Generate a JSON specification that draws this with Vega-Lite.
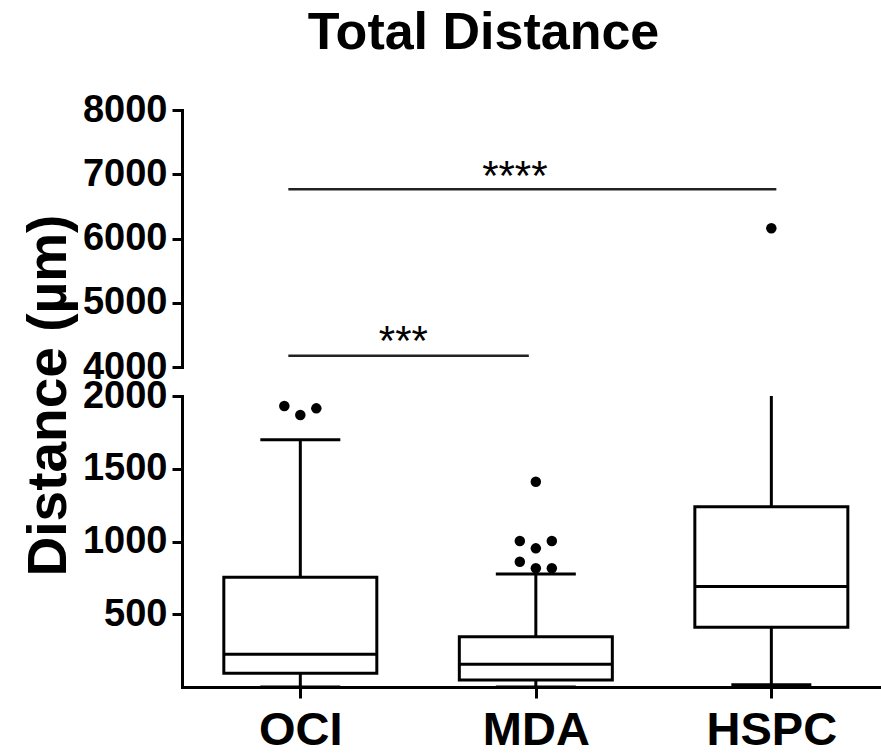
{
  "$schema": "https://vega.github.io/schema/vega-lite/v6.json",
  "autosize": {"type": "none"},
  "bounds": "flush",
  "padding": {"left": 182, "top": 110, "right": 699, "bottom": 643},
  "background": "white",
  "spacing": 29,
  "datasets": {
    "boxes": [
      {"group": "OCI", "lo": 0, "q1": 94, "median": 225, "q3": 754, "hi": 1700},
      {"group": "MDA", "lo": 0, "q1": 48, "median": 156, "q3": 346, "hi": 777},
      {"group": "HSPC", "lo": 15, "q1": 410, "median": 690, "q3": 1239, "hi": 2050}
    ],
    "outliers": [
      {"group": "OCI", "jitter": -1, "distance": 1931},
      {"group": "OCI", "jitter": 0, "distance": 1869},
      {"group": "OCI", "jitter": 1, "distance": 1915},
      {"group": "MDA", "jitter": 0, "distance": 1411},
      {"group": "MDA", "jitter": -1, "distance": 1003},
      {"group": "MDA", "jitter": 1, "distance": 1003},
      {"group": "MDA", "jitter": 0, "distance": 953},
      {"group": "MDA", "jitter": -1, "distance": 861},
      {"group": "MDA", "jitter": 0, "distance": 816},
      {"group": "MDA", "jitter": 1, "distance": 816},
      {"group": "HSPC", "jitter": 0, "distance": 6160}
    ],
    "sig": [
      {"from": "OCI", "to": "MDA", "level": 4176, "label": "***"},
      {"from": "OCI", "to": "HSPC", "level": 6766, "label": "****"}
    ]
  },
  "config": {
    "view": {"stroke": null},
    "axis": {"domainColor": "black", "domainWidth": 3, "domainCap": "square", "tickColor": "black", "tickWidth": 3, "tickSize": 10, "labelFont": "Liberation Sans", "labelFontWeight": "bold", "labelColor": "black", "grid": false, "titleFont": "Liberation Sans", "titleFontWeight": "bold", "titleColor": "black"},
    "axisY": {"labelFontSize": 38, "labelPadding": 5, "format": "d"},
    "axisX": {"labelFontSize": 47, "tickSize": 11, "labelPadding": 9}
  },
  "vconcat": [
    {
      "width": 699,
      "height": 257,
      "title": {"text": "Total Distance", "font": "Liberation Sans", "fontSize": 52, "fontWeight": "bold", "color": "black", "anchor": "middle", "frame": "group", "dx": -48, "offset": -10, "baseline": "alphabetic"},
      "encoding": {
        "x": {"field": "group", "type": "nominal", "scale": {"type": "point", "domain": ["OCI", "MDA", "HSPC"], "padding": 0.484, "align": 0.519}, "axis": null}
      },
      "layer": [
        {
          "data": {"name": "outliers"},
          "mark": {"type": "circle", "size": 110, "color": "black", "opacity": 1, "clip": true},
          "encoding": {
            "xOffset": {"field": "jitter", "type": "quantitative", "scale": {"domain": [-1, 1], "range": [-16, 16]}},
            "y": {"field": "distance", "type": "quantitative", "scale": {"domain": [4000, 8000], "nice": false, "zero": false}, "axis": {"values": [4000, 5000, 6000, 7000, 8000], "title": null}}
          }
        },
        {
          "data": {"name": "sig"},
          "transform": [{"filter": "datum.label == '***'"}],
          "mark": {"type": "rule", "color": "#222222", "strokeWidth": 2.5, "xOffset": -12, "x2Offset": -7},
          "encoding": {
            "x": {"field": "from", "type": "nominal"},
            "x2": {"field": "to"},
            "y": {"field": "level", "type": "quantitative"}
          }
        },
        {
          "data": {"name": "sig"},
          "transform": [{"filter": "datum.label == '****'"}],
          "mark": {"type": "rule", "color": "#222222", "strokeWidth": 2.5, "xOffset": -12, "x2Offset": 5},
          "encoding": {
            "x": {"field": "from", "type": "nominal"},
            "x2": {"field": "to"},
            "y": {"field": "level", "type": "quantitative"}
          }
        },
        {
          "data": {"name": "sig"},
          "transform": [{"filter": "datum.label == '***'"}],
          "mark": {"type": "text", "font": "Liberation Sans", "fontSize": 42, "color": "black", "baseline": "alphabetic", "align": "center", "xOffset": 103, "dy": -1},
          "encoding": {
            "x": {"field": "from", "type": "nominal"},
            "y": {"field": "level", "type": "quantitative"},
            "text": {"field": "label"}
          }
        },
        {
          "data": {"name": "sig"},
          "transform": [{"filter": "datum.label == '****'"}],
          "mark": {"type": "text", "font": "Liberation Sans", "fontSize": 42, "color": "black", "baseline": "alphabetic", "align": "center", "xOffset": 214.5, "dy": 1},
          "encoding": {
            "x": {"field": "from", "type": "nominal"},
            "y": {"field": "level", "type": "quantitative"},
            "text": {"field": "label"}
          }
        }
      ]
    },
    {
      "width": 699,
      "height": 291,
      "encoding": {
        "x": {"field": "group", "type": "nominal", "scale": {"type": "point", "domain": ["OCI", "MDA", "HSPC"], "padding": 0.484, "align": 0.519}, "axis": {"title": null, "labelAngle": 0}}
      },
      "layer": [
        {
          "data": {"name": "boxes"},
          "mark": {"type": "rule", "color": "black", "strokeWidth": 3, "clip": true},
          "encoding": {
            "y": {"field": "q3", "type": "quantitative", "scale": {"domain": [0, 2000], "nice": false, "zero": false}, "axis": {"values": [500, 1000, 1500, 2000], "title": "Distance (µm)", "titleFontSize": 55, "titleAngle": -90, "titleX": -134, "titleY": -1, "titleAlign": "center", "titleBaseline": "middle"}},
            "y2": {"field": "hi"}
          }
        },
        {
          "data": {"name": "boxes"},
          "mark": {"type": "rule", "color": "black", "strokeWidth": 3, "clip": true},
          "encoding": {
            "y": {"field": "lo", "type": "quantitative"},
            "y2": {"field": "q1"}
          }
        },
        {
          "data": {"name": "boxes"},
          "mark": {"type": "tick", "color": "black", "size": 80, "thickness": 3, "opacity": 1, "clip": true},
          "encoding": {
            "y": {"field": "hi", "type": "quantitative"}
          }
        },
        {
          "data": {"name": "boxes"},
          "mark": {"type": "tick", "color": "black", "size": 80, "thickness": 3, "opacity": 1, "clip": true},
          "encoding": {
            "y": {"field": "lo", "type": "quantitative"}
          }
        },
        {
          "data": {"name": "boxes"},
          "mark": {"type": "bar", "width": 153, "fill": "white", "stroke": "black", "strokeWidth": 3},
          "encoding": {
            "y": {"field": "q1", "type": "quantitative"},
            "y2": {"field": "q3"}
          }
        },
        {
          "data": {"name": "boxes"},
          "mark": {"type": "tick", "color": "black", "size": 153, "thickness": 3, "opacity": 1},
          "encoding": {
            "y": {"field": "median", "type": "quantitative"}
          }
        },
        {
          "data": {"name": "outliers"},
          "mark": {"type": "circle", "size": 110, "color": "black", "opacity": 1, "clip": true},
          "encoding": {
            "xOffset": {"field": "jitter", "type": "quantitative", "scale": {"domain": [-1, 1], "range": [-16, 16]}},
            "y": {"field": "distance", "type": "quantitative"}
          }
        }
      ]
    }
  ]
}
